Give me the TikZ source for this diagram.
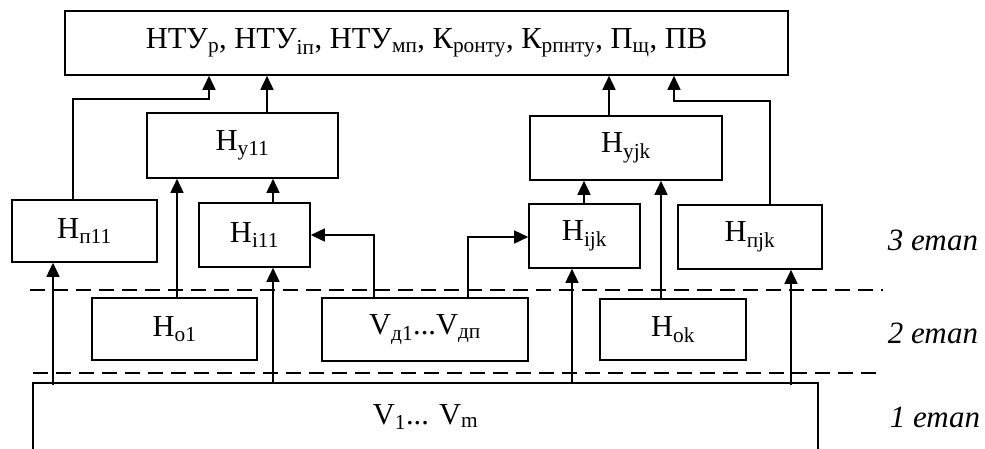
\documentclass[tikz,border=0pt]{standalone}
\usepackage{fontspec}
\setmainfont{Liberation Serif}
\usetikzlibrary{arrows.meta}
\begin{document}
\begin{tikzpicture}[x=1pt,y=-1pt,
  box/.style={draw,line width=1.6pt,inner sep=0pt,font=\fontsize{30.5}{32}\selectfont},
  conn/.style={line width=1.6pt,-{Triangle[length=14pt,width=13pt]}},
  sep/.style={line width=1.5pt,dash pattern=on 15pt off 8pt},
  stage/.style={font=\fontsize{31}{33}\selectfont\itshape}]
\useasboundingbox (0,0) rectangle (985,448);
% nodes
\node[box,minimum width=723pt,minimum height=64pt] (top) at (426.5,43)
  {НТУ\textsubscript{р}, НТУ\textsubscript{іп}, НТУ\textsubscript{мп}, К\textsubscript{ронту}, К\textsubscript{рпнту}, П\textsubscript{щ}, ПВ};
\node[box,minimum width=191pt,minimum height=65pt] (hy11) at (242.5,145.5) {Н\textsubscript{у11}};
\node[box,minimum width=145pt,minimum height=62pt] (hp11) at (84.5,231) {Н\textsubscript{п11}};
\node[box,minimum width=111pt,minimum height=64pt] (hi11) at (254.5,235) {Н\textsubscript{i11}};
\node[box,minimum width=192pt,minimum height=64pt] (hyjk) at (626,148) {Н\textsubscript{уjk}};
\node[box,minimum width=111pt,minimum height=64pt] (hijk) at (584.5,236) {Н\textsubscript{ijk}};
\node[box,minimum width=144pt,minimum height=64pt] (hpjk) at (750,237) {Н\textsubscript{пjk}};
\node[box,minimum width=165pt,minimum height=62pt] (ho1) at (174.5,329) {Н\textsubscript{о1}};
\node[box,minimum width=206pt,minimum height=63pt] (vd) at (425,329.5) {V\textsubscript{д1}...V\textsubscript{дп}};
\node[box,minimum width=146pt,minimum height=61pt] (hok) at (673,329.5) {Н\textsubscript{оk}};
\node[box,minimum width=785pt,minimum height=68pt] (bot) at (425.5,417) {V\textsubscript{1}... V\textsubscript{m}};
% stage labels
\node[stage] (s3) at (933,240) {3 етап};
\node[stage] (s2) at (933,333) {2 етап};
\node[stage] (s1) at (935,417) {1 етап};
% separators
\coordinate (d1a) at (30,290); \coordinate (d1b) at (883,290);
\coordinate (d2a) at (33,373); \coordinate (d2b) at (883,373);
\draw[sep] (d1a) -- (d1b);
\draw[sep] (d2a) -- (d2b);
% helper coordinates
\coordinate (a0) at (73,99);   \coordinate (a1) at (209,99);
\coordinate (b0) at (770,101); \coordinate (b1) at (674,101);
\coordinate (c1) at (267,0);   \coordinate (c2) at (609,0);
\coordinate (c3) at (273,0);   \coordinate (c4) at (584,0);
\coordinate (c5) at (53,0);    \coordinate (c6) at (177,0);
\coordinate (c7) at (572,0);   \coordinate (c8) at (661,0);
\coordinate (c9) at (791,0);
\coordinate (e1) at (374,235); \coordinate (e2) at (468,237);
% connectors
\draw[conn] (hp11.north -| a0) |- (a1) -- (top.south -| a1);
\draw[conn] (hy11.north -| c1) -- (top.south -| c1);
\draw[conn] (hyjk.north -| c2) -- (top.south -| c2);
\draw[conn] (hpjk.north -| b0) |- (b1) -- (top.south -| b1);
\draw[conn] (hi11.north -| c3) -- (hy11.south -| c3);
\draw[conn] (hijk.north -| c4) -- (hyjk.south -| c4);
\draw[conn] ([yshift=-3pt]bot.north -| c5) -- (hp11.south -| c5);
\draw[conn] (ho1.north -| c6) -- (hy11.south -| c6);
\draw[conn] (bot.north -| c3) -- (hi11.south -| c3);
\draw[conn] (vd.north -| e1) |- (hi11.east |- e1);
\draw[conn] (vd.north -| e2) |- (hijk.west |- e2);
\draw[conn] (bot.north -| c7) -- (hijk.south -| c7);
\draw[conn] (hok.north -| c8) -- (hyjk.south -| c8);
\draw[conn] ([yshift=-3pt]bot.north -| c9) -- (hpjk.south -| c9);
\end{tikzpicture}
\end{document}
